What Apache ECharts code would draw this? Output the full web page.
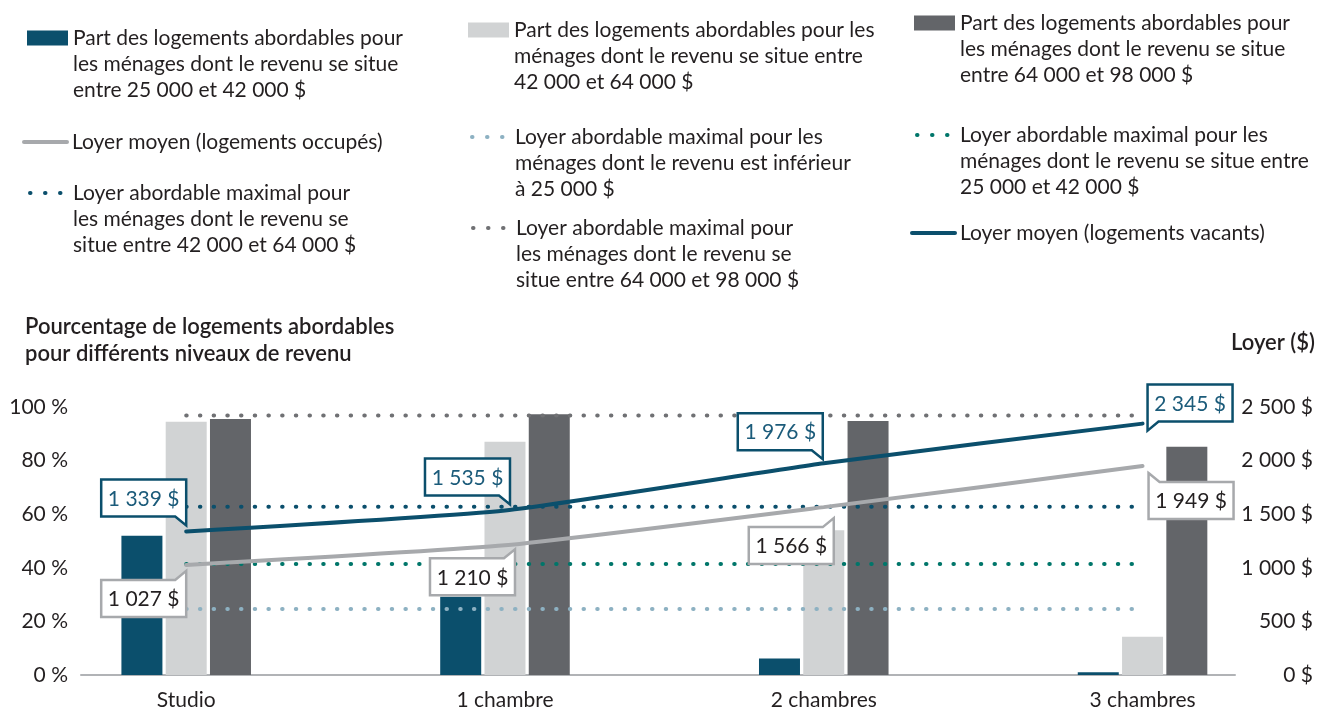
<!DOCTYPE html>
<html lang="fr">
<head>
<meta charset="utf-8">
<title>Logements abordables et loyers</title>
<script src="https://cdn.jsdelivr.net/npm/echarts@6/dist/echarts.min.js"></script>
<style>
  html, body { margin: 0; padding: 0; background: #fff; }
  #chart { width: 1317px; height: 712px; }
</style>
</head>
<body>
<div id="chart"></div>
<script>
// Categories (x axis)
const CATEGORIES = ['Studio', '1 chambre', '2 chambres', '3 chambres'];

// Share of affordable units (%), left axis
const SHARE_25_42 = [52, 29.2, 6.2, 1];
const SHARE_42_64 = [94.5, 87, 54, 14.3];
const SHARE_64_98 = [95.5, 97.3, 94.8, 85.2];

// Average rents ($), right axis
const RENT_OCCUPIED = [1027, 1210, 1566, 1949];
const RENT_VACANT = [1339, 1535, 1976, 2345];

// Maximum affordable rent per income band ($), right axis
const MAX_RENT_UNDER_25 = 615;
const MAX_RENT_25_42 = 1035;
const MAX_RENT_42_64 = 1570;
const MAX_RENT_64_98 = 2420;

const PCT_MAX = 100, PCT_STEP = 20;
const RENT_MAX = 2500, RENT_STEP = 500;

// Series / legend labels (line breaks as in the original)
const N_SHARE_25_42 = 'Part des logements abordables pour\nles ménages dont le revenu se situe\nentre 25 000 et 42 000 $';
const N_SHARE_42_64 = 'Part des logements abordables pour les\nménages dont le revenu se situe entre\n42 000 et 64 000 $';
const N_SHARE_64_98 = 'Part des logements abordables pour\nles ménages dont le revenu se situe\nentre 64 000 et 98 000 $';
const N_OCCUPIED = 'Loyer moyen (logements occupés)';
const N_VACANT = 'Loyer moyen (logements vacants)';
const N_MAX_UNDER_25 = 'Loyer abordable maximal pour les\nménages dont le revenu est inférieur\nà 25 000 $';
const N_MAX_25_42 = 'Loyer abordable maximal pour les\nménages dont le revenu se situe entre\n25 000 et 42 000 $';
const N_MAX_42_64 = 'Loyer abordable maximal pour\nles ménages dont le revenu se\nsitue entre 42 000 et 64 000 $';
const N_MAX_64_98 = 'Loyer abordable maximal pour\nles ménages dont le revenu se\nsitue entre 64 000 et 98 000 $';

const FONT = 'Lato, "Open Sans", sans-serif';
const FS = 21;
const INK = '#231f20';
const C = {
  blue: '#0b4f6c',
  blueText: '#1b5b7a',
  lightGrey: '#d1d3d4',
  darkGrey: '#636569',
  lineGrey: '#a7a9ac',
  teal: '#00766a',
  paleBlue: '#8db1c2',
  dotGrey: '#707174',
  axis: '#b1b3b6',
};

const fmt = v => String(v).replace(/\B(?=(\d{3})+(?!\d))/g, ' ');

// callout placement: tip of the tail relative to the point, and which corner carries the tail
const CALLOUT_VACANT = [
  { corner: 'br', dx: 0, dy: -6 },
  { corner: 'br', dx: 5, dy: -6 },
  { corner: 'br', dx: -1, dy: -4 },
  { corner: 'bl', dx: 5, dy: 7 },
];
const CALLOUT_OCCUPIED = [
  { corner: 'tr', dx: 0, dy: 6 },
  { corner: 'tr', dx: 10, dy: 4 },
  { corner: 'tr', dx: 10, dy: 11 },
  { corner: 'tl', dx: 6, dy: 7 },
];

function calloutSeries(name, values, layout, stroke, textColor) {
  return {
    type: 'custom',
    name,
    yAxisIndex: 1,
    z: 10,
    silent: true,
    data: values.map((v, i) => [i, v]),
    renderItem(params, api) {
      const p = api.coord([api.value(0), api.value(1)]);
      const c = layout[params.dataIndex];
      const tx = p[0] + c.dx, ty = p[1] + c.dy;
      const w = 85, h = 37, tail = 9, tw = 11;
      let L, T, pts;
      if (c.corner === 'br') {
        L = tx - w; T = ty - tail - h;
        pts = [[L, T], [tx, T], [tx, ty], [tx - tw, T + h], [L, T + h]];
      } else if (c.corner === 'tr') {
        L = tx - w; T = ty + tail;
        pts = [[L, T], [tx - tw, T], [tx, ty], [tx, T + h], [L, T + h]];
      } else if (c.corner === 'bl') {
        L = tx; T = ty - tail - h;
        pts = [[L, T], [L + w, T], [L + w, T + h], [L + tw, T + h], [tx, ty]];
      } else {
        L = tx; T = ty + tail;
        pts = [[tx, ty], [L + tw, T], [L + w, T], [L + w, T + h], [L, T + h]];
      }
      return {
        type: 'group',
        children: [
          { type: 'polygon', shape: { points: pts }, style: { fill: '#fff', stroke, lineWidth: 2.5 } },
          {
            type: 'text',
            style: {
              text: fmt(api.value(1)) + ' $',
              x: L + w / 2, y: T + h / 2 + 1,
              align: 'center', verticalAlign: 'middle',
              fill: textColor, fontSize: FS, fontFamily: FONT,
            },
          },
        ],
      };
    },
  };
}

function barSeries(name, values, color) {
  return {
    type: 'bar', name, yAxisIndex: 0,
    barWidth: 41, barGap: '8%',
    itemStyle: { color },
    data: values.map((v, i) => [i, v]),
  };
}

function levelSeries(name, level, color) {
  return {
    type: 'line', name, yAxisIndex: 1, symbol: 'none', z: 4,
    lineStyle: { color, width: 4, type: [0.5, 13.2], cap: 'round' },
    itemStyle: { color },
    data: CATEGORIES.map((_, i) => [i, level]),
  };
}

function rentSeries(name, values, color) {
  return {
    type: 'line', name, yAxisIndex: 1, symbol: 'none', z: 5, smooth: 0.15,
    lineStyle: { color, width: 4, cap: 'round' },
    itemStyle: { color },
    data: values.map((v, i) => [i, v]),
  };
}

// legend: one component per entry; leading blank lines keep the icon on the first text line
const LH = 26;
function legendAt(name, left, cy, lines, kind) {
  const h = kind === 'bar' ? 15 : 14;
  const boundTop = Math.min(0, h / 2 - (2 * lines - 1) * LH / 2);
  const lg = {
    data: [name],
    left, top: cy - (h / 2 - boundTop),
    padding: 0,
    selectedMode: false,
    itemHeight: h,
    formatter: n => '\n'.repeat(lines - 1) + n,
    textStyle: { fontFamily: FONT, fontSize: FS, color: INK, lineHeight: LH },
  };
  if (kind === 'bar') {
    lg.icon = 'rect';
    lg.itemWidth = 41;
  } else if (kind === 'line') {
    lg.itemWidth = 43;
    lg.lineStyle = { width: 4, cap: 'round' };
    lg.itemStyle = { opacity: 0 };
  } else {
    lg.itemWidth = 38;
    lg.lineStyle = { width: 4, cap: 'round', type: [0.5, 14.5] };
    lg.itemStyle = { opacity: 0 };
  }
  return lg;
}

const chart = echarts.init(document.getElementById('chart'), null, { renderer: 'canvas' });

chart.setOption({
  animation: false,
  textStyle: { fontFamily: FONT, color: INK },
  title: [
    {
      text: 'Pourcentage de logements abordables\npour différents niveaux de revenu',
      left: 25, top: 313, padding: 0,
      textStyle: { fontFamily: FONT, fontSize: 22, lineHeight: 27, fontWeight: 600, color: INK },
    },
    {
      text: 'Loyer ($)',
      right: 2, top: 329, padding: 0,
      textStyle: { fontFamily: FONT, fontSize: 22, lineHeight: 27, fontWeight: 600, color: INK },
    },
  ],
  legend: [
    legendAt(N_SHARE_25_42, 27, 38, 3, 'bar'),
    legendAt(N_OCCUPIED, 22, 142, 1, 'line'),
    legendAt(N_MAX_42_64, 28, 193, 3, 'dots'),
    legendAt(N_SHARE_42_64, 468, 30, 3, 'bar'),
    legendAt(N_MAX_UNDER_25, 470, 137, 3, 'dots'),
    legendAt(N_MAX_64_98, 471, 228, 3, 'dots'),
    legendAt(N_SHARE_64_98, 914, 23, 3, 'bar'),
    legendAt(N_MAX_25_42, 915, 135, 3, 'dots'),
    legendAt(N_VACANT, 910, 233, 1, 'line'),
  ],
  grid: { left: 81, right: 82, top: 407, bottom: 37, containLabel: false },
  xAxis: {
    type: 'value',
    min: -0.33,
    max: 3.29,
    axisLine: { show: true, onZero: false, lineStyle: { color: C.axis, width: 2 } },
    axisTick: { show: false },
    splitLine: { show: false },
    axisLabel: {
      customValues: [0, 1, 2, 3],
      formatter: v => CATEGORIES[Math.round(v)] || '',
      fontSize: FS, color: INK, margin: 15, fontFamily: FONT,
    },
  },
  yAxis: [
    {
      type: 'value', min: 0, max: PCT_MAX, interval: PCT_STEP,
      axisLine: { show: false }, axisTick: { show: false }, splitLine: { show: false },
      axisLabel: { formatter: '{value} %', fontSize: FS, color: INK, margin: 13, fontFamily: FONT },
    },
    {
      type: 'value', min: 0, max: RENT_MAX, interval: RENT_STEP, position: 'right',
      axisLine: { show: false }, axisTick: { show: false }, splitLine: { show: false },
      axisLabel: {
        formatter: v => fmt(v) + ' $',
        fontSize: FS, color: INK, margin: 78, align: 'right', fontFamily: FONT,
      },
    },
  ],
  series: [
    barSeries(N_SHARE_25_42, SHARE_25_42, C.blue),
    barSeries(N_SHARE_42_64, SHARE_42_64, C.lightGrey),
    barSeries(N_SHARE_64_98, SHARE_64_98, C.darkGrey),
    levelSeries(N_MAX_64_98, MAX_RENT_64_98, C.dotGrey),
    levelSeries(N_MAX_42_64, MAX_RENT_42_64, C.blue),
    levelSeries(N_MAX_25_42, MAX_RENT_25_42, C.teal),
    levelSeries(N_MAX_UNDER_25, MAX_RENT_UNDER_25, C.paleBlue),
    rentSeries(N_OCCUPIED, RENT_OCCUPIED, C.lineGrey),
    rentSeries(N_VACANT, RENT_VACANT, C.blue),
    calloutSeries('callout-vacant', RENT_VACANT, CALLOUT_VACANT, C.blue, C.blueText),
    calloutSeries('callout-occupied', RENT_OCCUPIED, CALLOUT_OCCUPIED, C.lineGrey, INK),
  ],
});
</script>
</body>
</html>
